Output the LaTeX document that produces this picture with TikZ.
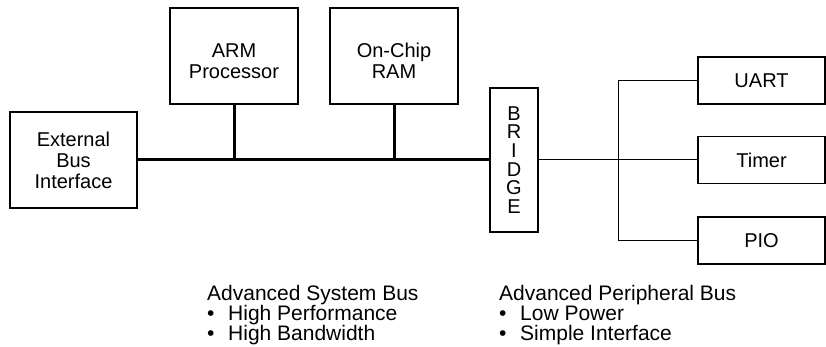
\documentclass[tikz,border=0pt]{standalone}
\usepackage{fontspec}
\setmainfont{Liberation Sans}

\begin{document}
\begin{tikzpicture}[
  x=1pt,y=-1pt,
  font=\fontsize{20}{21}\selectfont,
  bx/.style ={draw,line width=1.2pt,align=center,inner sep=0pt},
  M/.style  ={bx,minimum width=128pt,minimum height=96pt},
  P/.style  ={bx,minimum width=127pt,minimum height=47pt},
  asb/.style={line width=3pt},
  apb/.style={line width=1pt},
  nt/.style ={align=left,inner sep=0pt,font=\fontsize{21}{20}\selectfont}
]
\useasboundingbox (0,0) rectangle (826,347);

% ======== system bus side
\node[M,minimum width=127pt] (ebi) at (73.5,160) {External\\Bus\\Interface};
\node[M] (arm) at (234,56) {\rule{0pt}{24pt}ARM\\Processor};
\node[M] (ram) at (394,56) {\rule{0pt}{24pt}On-Chip\\RAM};

% ======== bridge
\node[bx,minimum width=48pt,minimum height=144pt,
      font=\fontsize{20}{18.7}\selectfont] (br) at (514,160) {B\\R\\I\\D\\G\\E};

% ======== peripherals
\node[P] (uart) at (761.5,80.5)  {UART};
\node[P] (tmr)  at (761.5,160)   {Timer};
\node[P] (pio)  at (761.5,240.5) {PIO};

% ======== buses
\draw[asb] (ebi.east) -- (br.west);
\draw[asb] (arm.south) -- (arm.south |- ebi.east);
\draw[asb] (ram.south) -- (ram.south |- ebi.east);

\coordinate (tap) at (618,160);
\draw[apb] (br.east) -- (tmr.west);
\draw[apb] (uart.west) -- (uart.west -| tap) -- (pio.west -| tap) -- (pio.west);

% ======== notes
\node[nt,anchor=north west] (asbt) at (207,285)
  {Advanced System Bus\\•\hspace{0.65em}High Performance\\•\hspace{0.65em}High Bandwidth};
\node[nt,anchor=north west] (apbt) at (499,285)
  {Advanced Peripheral Bus\\•\hspace{0.65em}Low Power\\•\hspace{0.65em}Simple Interface};
\end{tikzpicture}
\end{document}
